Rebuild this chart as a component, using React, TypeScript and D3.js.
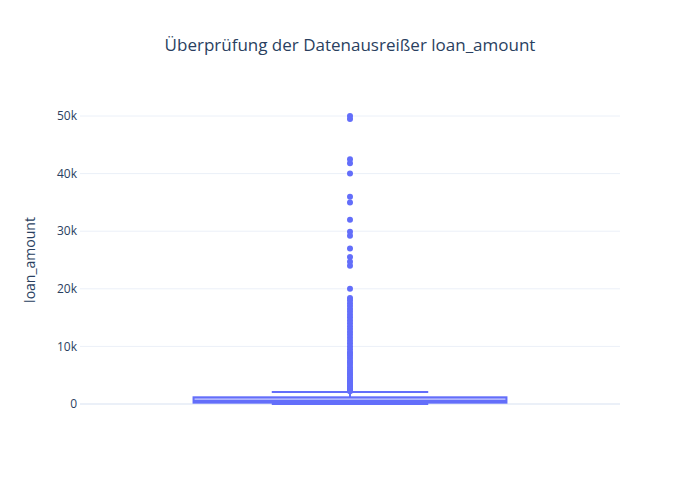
import React from 'react';
import * as d3 from 'd3';

const yTicks = [0, 10000, 20000, 30000, 40000, 50000];
const boxStats = { q1: 230, median: 500, q3: 1160, lowerFence: 0, upperFence: 2080 };
const outliers = [
  2200, 2400, 2600, 2800, 3000, 3200, 3500, 3800, 4000, 4300, 4600, 5000, 5300, 5600, 6000, 6400,
  6800, 7200, 7500, 8000, 8400, 8800, 9000, 9500, 10000, 10500, 11000, 11500, 12000, 12500, 13000,
  13500, 14000, 14500, 15000, 15500, 16000, 16500, 17000, 17500, 18000, 18400, 20000, 24000, 24700,
  25500, 27000, 29200, 29900, 32000, 35000, 36000, 40000, 41800, 42500, 49500, 50000,
];

const W = 700;
const H = 500;
const margin = { top: 100, right: 80, bottom: 80, left: 80 };
const color = '#636efa';
const text = '#2a3f5f';

const App: React.FC = () => {
  const y = d3.scaleLinear().domain([-2780, 52780]).range([H - margin.bottom, margin.top]);
  const x = d3.scaleBand().domain(['loan_amount']).range([margin.left, W - margin.right]).paddingInner(0.3).paddingOuter(0.254);
  const x0 = x('loan_amount') || 0;
  const bw = x.bandwidth();
  const cx = x0 + bw / 2;
  const capW = bw / 2;

  return (
    <svg width={W} height={H} style={{ position: 'absolute', left: 0, top: 0, background: '#fff' }} fontFamily="'Open Sans', sans-serif">
      {yTicks.map((t) => (
        <g key={t}>
          <line x1={margin.left} x2={W - margin.right} y1={y(t)} y2={y(t)} stroke="#ebf0f8" strokeWidth={t === 0 ? 2 : 1} />
          <text x={margin.left - 3} y={y(t)} dy="0.35em" textAnchor="end" fontSize={12} fill={text}>
            {d3.format('~s')(t)}
          </text>
        </g>
      ))}
      <text transform={`translate(35,${(margin.top + H - margin.bottom) / 2}) rotate(-90)`} textAnchor="middle" fontSize={14} fill={text}>
        loan_amount
      </text>
      <text x={W / 2} y={51} textAnchor="middle" fontSize={17} fill={text}>
        Überprüfung der Datenausreißer loan_amount
      </text>
      {/* whiskers */}
      <line x1={cx} x2={cx} y1={y(boxStats.q3)} y2={y(boxStats.upperFence)} stroke={color} strokeWidth={2} />
      <line x1={cx - capW / 2} x2={cx + capW / 2} y1={y(boxStats.upperFence)} y2={y(boxStats.upperFence)} stroke={color} strokeWidth={2} />
      <line x1={cx - capW / 2} x2={cx + capW / 2} y1={y(boxStats.lowerFence)} y2={y(boxStats.lowerFence)} stroke={color} strokeWidth={2} />
      <rect x={x0} width={bw} y={y(boxStats.q3)} height={y(boxStats.q1) - y(boxStats.q3)} fill={color} fillOpacity={0.5} stroke={color} strokeWidth={2} />
      <line x1={x0} x2={x0 + bw} y1={y(boxStats.median)} y2={y(boxStats.median)} stroke={color} strokeWidth={2} />
      {outliers.map((v, i) => (
        <circle key={i} cx={cx} cy={y(v)} r={3} fill={color} />
      ))}
    </svg>
  );
};

export default App;
